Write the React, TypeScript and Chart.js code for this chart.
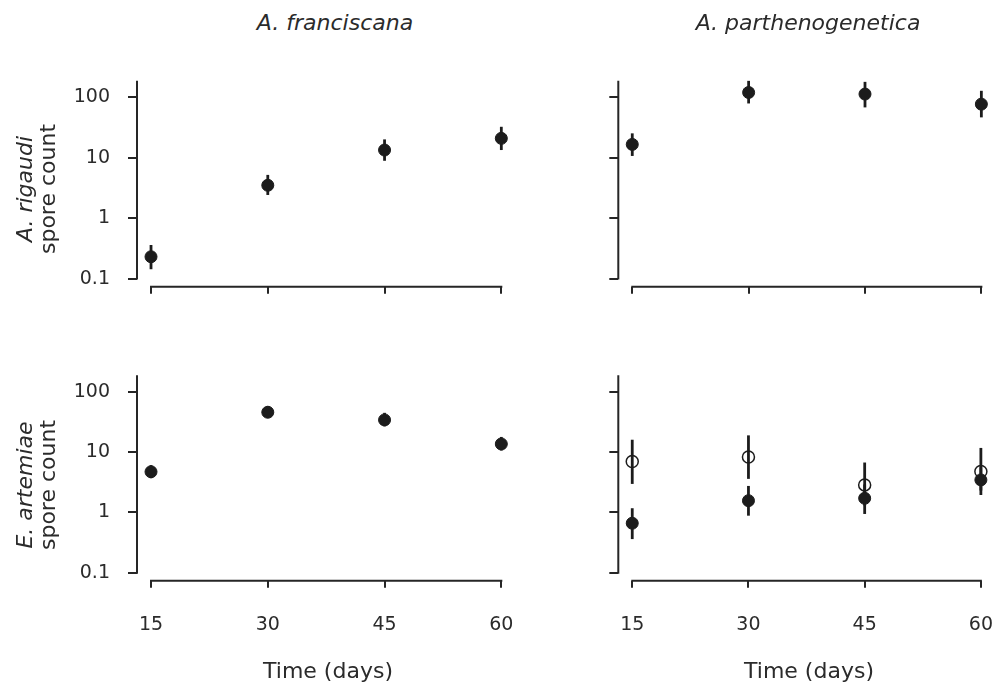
import React, { useEffect, useRef } from "react";
import { Chart, registerables } from "chart.js";

Chart.register(...registerables);

// ---------- data ----------
const days = [15, 30, 45, 60];
const xTickValues = [15, 30, 45, 60];
const xTickLabels = ["15", "30", "45", "60"];
const yTickValues = [0.1, 1, 10, 100];
const yTickLabels = ["0.1", "1", "10", "100"];

// A. franciscana host, A. rigaudi spores
const afRigMean = [0.23, 3.5, 13.4, 20.9];
const afRigLow = [0.143, 2.42, 8.9, 13.4];
const afRigHigh = [0.36, 5.2, 20.1, 32.5];

// A. parthenogenetica host, A. rigaudi spores
const apRigMean = [16.6, 120, 113, 77];
const apRigLow = [10.7, 79, 68, 46.5];
const apRigHigh = [25.3, 187, 180, 128];

// A. franciscana host, E. artemiae spores
const afArtMean = [4.7, 45.7, 34.1, 13.6];
const afArtLow = [3.69, 36.9, 26.7, 10.6];
const afArtHigh = [6.07, 57.5, 44.7, 17.8];

// A. parthenogenetica host, E. artemiae spores (filled)
const apArtFilledMean = [0.66, 1.56, 1.71, 3.45];
const apArtFilledLow = [0.36, 0.88, 0.94, 1.94];
const apArtFilledHigh = [1.17, 2.74, 2.9, 5.6];

// A. parthenogenetica host, E. artemiae spores (open)
const apArtOpenMean = [6.97, 8.25, 2.85, 4.75];
const apArtOpenLow = [2.96, 3.59, 1.3, 2.3];
const apArtOpenHigh = [16.0, 18.9, 6.7, 11.7];

// ---------- style ----------
const FONT = "'DejaVu Sans', Verdana, sans-serif";
const TEXT = "#2b2b2b";
const AXIS = "#262626";
const MARK = "#1c1c1c";
const X_MIN = 13.2;
const X_MAX = 61.5;
const Y_MIN = 0.0735;
const Y_MAX = 181;

type Series = { mean: number[]; low: number[]; high: number[]; open?: boolean };

const axisLinesPlugin = {
  id: "axisLines",
  beforeDatasetsDraw(chart: any) {
    const { ctx, chartArea, scales } = chart;
    const x = scales.x;
    const y = scales.y;
    ctx.save();
    ctx.strokeStyle = AXIS;
    ctx.lineWidth = 2;
    ctx.lineCap = "square";
    ctx.beginPath();
    ctx.moveTo(chartArea.left, chartArea.top);
    ctx.lineTo(chartArea.left, y.getPixelForValue(yTickValues[0]));
    ctx.moveTo(x.getPixelForValue(xTickValues[0]), chartArea.bottom);
    ctx.lineTo(x.getPixelForValue(xTickValues[xTickValues.length - 1]), chartArea.bottom);
    ctx.stroke();
    ctx.restore();
  },
};

const errorBarsPlugin = {
  id: "errorBars",
  beforeDatasetsDraw(chart: any) {
    const { ctx, scales } = chart;
    const x = scales.x;
    const y = scales.y;
    ctx.save();
    ctx.strokeStyle = MARK;
    ctx.lineWidth = 2.8;
    ctx.lineCap = "butt";
    chart.data.datasets.forEach((ds: any) => {
      const lo: number[] = ds.errLow || [];
      const hi: number[] = ds.errHigh || [];
      ds.data.forEach((pt: any, i: number) => {
        const px = x.getPixelForValue(pt.x);
        ctx.beginPath();
        ctx.moveTo(px, y.getPixelForValue(lo[i]));
        ctx.lineTo(px, y.getPixelForValue(hi[i]));
        ctx.stroke();
      });
    });
    ctx.restore();
  },
};

type PanelProps = {
  left: number;
  top: number;
  width: number;
  height: number;
  areaLeft: number;
  areaTop: number;
  areaRight: number;
  areaBottom: number;
  showX: boolean;
  showY: boolean;
  series: Series[];
};

function Panel(p: PanelProps) {
  const ref = useRef<HTMLCanvasElement | null>(null);
  useEffect(() => {
    if (!ref.current) return;
    const datasets = p.series.map((s) => ({
      data: days.map((d, i) => ({ x: d, y: s.mean[i] })),
      errLow: s.low,
      errHigh: s.high,
      pointRadius: 6,
      pointBorderWidth: s.open ? 1.5 : 1,
      pointBackgroundColor: s.open ? "rgba(0,0,0,0)" : MARK,
      pointBorderColor: MARK,
      showLine: false,
      clip: false as any,
      order: s.open ? 2 : 1,
    }));
    const chart = new Chart(ref.current, {
      type: "scatter",
      data: { datasets: datasets as any },
      plugins: [axisLinesPlugin, errorBarsPlugin],
      options: {
        animation: false,
        responsive: false,
        events: [],
        layout: {
          padding: {
            left: 0,
            top: p.areaTop,
            right: p.width - p.areaRight,
            bottom: 0,
          },
        },
        plugins: {
          legend: { display: false },
          tooltip: { enabled: false },
        },
        scales: {
          x: {
            type: "linear",
            min: X_MIN,
            max: X_MAX,
            afterBuildTicks: (s: any) => {
              s.ticks = xTickValues.map((v) => ({ value: v }));
            },
            afterFit: (s: any) => {
              s.height = p.height - p.areaBottom;
              s.paddingLeft = 0;
              s.paddingRight = 0;
              s.paddingTop = 0;
              s.paddingBottom = 0;
            },
            border: { display: false },
            grid: {
              display: true,
              drawOnChartArea: false,
              drawTicks: true,
              tickLength: 7,
              lineWidth: 2,
              color: AXIS,
            },
            ticks: {
              padding: 25.5,
              autoSkip: false,
              maxRotation: 0,
              minRotation: 0,
              color: TEXT,
              font: { family: FONT, size: 19 },
              callback: (_v: any, i: number) => (p.showX ? xTickLabels[i] : ""),
            },
          },
          y: {
            type: "logarithmic",
            min: Y_MIN,
            max: Y_MAX,
            afterBuildTicks: (s: any) => {
              s.ticks = yTickValues.map((v) => ({ value: v }));
            },
            afterFit: (s: any) => {
              s.width = p.areaLeft;
              s.paddingLeft = 0;
              s.paddingRight = 0;
              s.paddingTop = 0;
              s.paddingBottom = 0;
            },
            border: { display: false },
            grid: {
              display: true,
              drawOnChartArea: false,
              drawTicks: true,
              tickLength: 9,
              lineWidth: 2,
              color: AXIS,
            },
            ticks: {
              padding: 18,
              autoSkip: false,
              color: TEXT,
              font: { family: FONT, size: 19 },
              callback: (_v: any, i: number) => (p.showY ? yTickLabels[i] : ""),
            },
          },
        },
      } as any,
    });
    return () => chart.destroy();
  }, []);
  return (
    <canvas
      ref={ref}
      width={p.width}
      height={p.height}
      style={{
        position: "absolute",
        left: p.left,
        top: p.top,
        width: p.width,
        height: p.height,
      }}
    />
  );
}

const textBase: React.CSSProperties = {
  position: "absolute",
  transform: "translate(-50%, -50%)",
  fontFamily: FONT,
  fontSize: 22,
  lineHeight: "22px",
  color: TEXT,
  whiteSpace: "nowrap",
};

const rotBase: React.CSSProperties = {
  position: "absolute",
  transform: "translate(-50%, -50%) rotate(-90deg)",
  fontFamily: FONT,
  fontSize: 22,
  lineHeight: "23px",
  color: TEXT,
  whiteSpace: "nowrap",
  textAlign: "center",
};

export default function App() {
  return (
    <div
      style={{
        position: "absolute",
        left: 0,
        top: 0,
        width: 1000,
        height: 684,
        background: "#ffffff",
        overflow: "hidden",
      }}
    >
      <Panel
        left={0}
        top={40}
        width={520}
        height={290}
        areaLeft={137}
        areaTop={41.7}
        areaRight={518}
        areaBottom={246.7}
        showX={false}
        showY={true}
        series={[{ mean: afRigMean, low: afRigLow, high: afRigHigh }]}
      />
      <Panel
        left={500}
        top={40}
        width={500}
        height={290}
        areaLeft={118.3}
        areaTop={41.7}
        areaRight={499.3}
        areaBottom={246.7}
        showX={false}
        showY={false}
        series={[{ mean: apRigMean, low: apRigLow, high: apRigHigh }]}
      />
      <Panel
        left={0}
        top={340}
        width={520}
        height={344}
        areaLeft={137}
        areaTop={36.2}
        areaRight={518}
        areaBottom={240.7}
        showX={true}
        showY={true}
        series={[{ mean: afArtMean, low: afArtLow, high: afArtHigh }]}
      />
      <Panel
        left={500}
        top={340}
        width={500}
        height={344}
        areaLeft={118.3}
        areaTop={36.2}
        areaRight={499.3}
        areaBottom={240.7}
        showX={true}
        showY={false}
        series={[
          { mean: apArtOpenMean, low: apArtOpenLow, high: apArtOpenHigh, open: true },
          { mean: apArtFilledMean, low: apArtFilledLow, high: apArtFilledHigh },
        ]}
      />

      <div style={{ ...textBase, left: 335, top: 23, fontStyle: "italic" }}>A. franciscana</div>
      <div style={{ ...textBase, left: 808, top: 23, fontStyle: "italic" }}>A. parthenogenetica</div>
      <div style={{ ...textBase, left: 328, top: 671 }}>Time (days)</div>
      <div style={{ ...textBase, left: 809, top: 671 }}>Time (days)</div>

      <div style={{ ...rotBase, left: 36, top: 189 }}>
        <i>A. rigaudi</i>
        <br />
        spore count
      </div>
      <div style={{ ...rotBase, left: 36, top: 485 }}>
        <i>E. artemiae</i>
        <br />
        spore count
      </div>
    </div>
  );
}
